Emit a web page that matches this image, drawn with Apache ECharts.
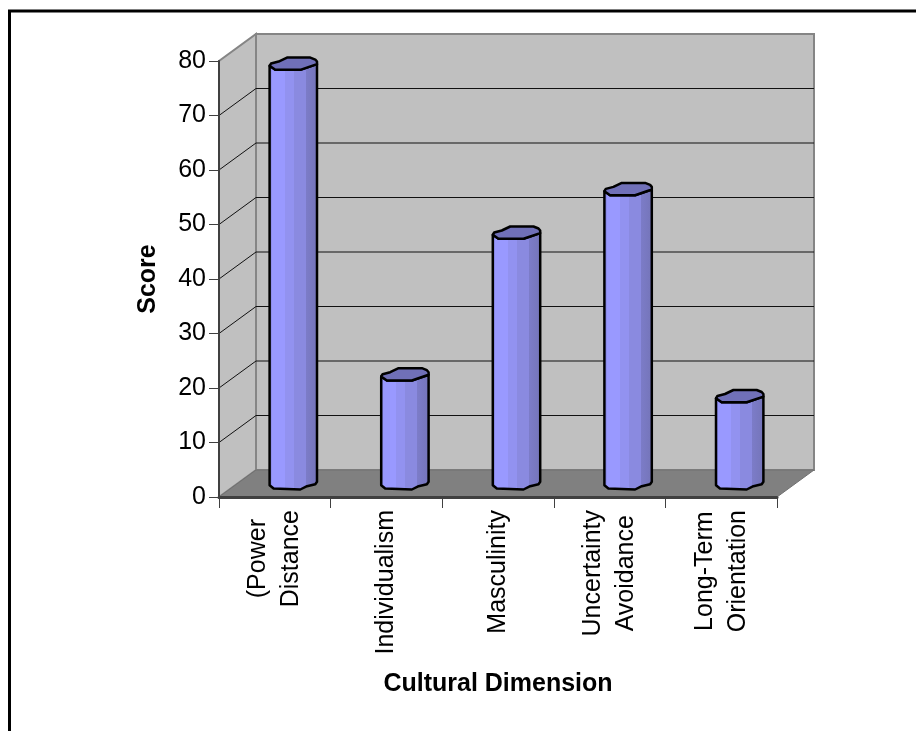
<!DOCTYPE html>
<html>
<head>
<meta charset="utf-8">
<style>html,body{margin:0;padding:0;background:#fff}#chart{width:916px;height:731px}</style>
<script src="https://cdn.jsdelivr.net/npm/echarts@6/dist/echarts.min.js"></script>
</head>
<body>
<div id="chart"></div>
<script>
// Hofstede-style cultural dimension scores
const categories = ['(Power\nDistance', 'Individualism', 'Masculinity', 'Uncertainty\nAvoidance', 'Long-Term\nOrientation'];
const scores = [77, 20, 46, 54, 16];
const scoreTicks = [0, 10, 20, 30, 40, 50, 60, 70, 80];

const FONT = '"Liberation Sans", Arial, sans-serif';
const DEPTH_X = 37, DEPTH_Y = -27;         // oblique offset of the back wall
const WALL_EDGE = '#858585';

// Faceted outline of a column's cap and foot, relative to its axis, in px
const capBack = [[-23.7, 2], [-22.3, -0.3], [-14.7, -2.3], [-6.3, -6.3], [17, -6.3], [22, -4.3], [23.7, -2.3], [23.7, 0.3]];
const capFront = [[7, 6], [-18, 6]];
const footFront = [[-23.7, 1.7], [-19.7, 5], [7, 6], [13.7, 2.7], [22, 0.7], [23.7, -1.7]];

const columnFill = {
  type: 'linear', x: 0, y: 0, x2: 1, y2: 0,
  colorStops: [
    [0, '#8e8eee'], [0.07, '#8e8eee'], [0.07, '#9999ff'], [0.33, '#9999ff'],
    [0.33, '#9292f0'], [0.51, '#9292f0'], [0.51, '#8a8ae0'], [0.75, '#8a8ae0'],
    [0.75, '#7c7cc8'], [1, '#7474b8']
  ].map(([offset, color]) => ({ offset, color }))
};

function shift(points, x, y) {
  return points.map(p => [p[0] + x, p[1] + y]);
}

// Side wall, back wall, floor and gridlines of the oblique plot box
function renderBox(params, api) {
  const band = api.size([1, 0])[0];
  const bottom = api.coord([0, 0]);
  const top = api.coord([0, scoreTicks[scoreTicks.length - 1]]);
  const x0 = bottom[0] - band / 2;
  const x1 = x0 + band * categories.length;
  const y0 = bottom[1], y1 = top[1];
  const bx0 = x0 + DEPTH_X, bx1 = x1 + DEPTH_X;
  const wall = { fill: '#c0c0c0', stroke: WALL_EDGE, lineWidth: 2 };
  const children = [
    { type: 'polygon', shape: { points: [[bx0, y0 + DEPTH_Y], [bx0, y1 + DEPTH_Y], [bx1, y1 + DEPTH_Y], [bx1, y0 + DEPTH_Y]] }, style: wall },
    { type: 'polygon', shape: { points: [[x0, y0], [x0, y1], [bx0, y1 + DEPTH_Y], [bx0, y0 + DEPTH_Y]] }, style: wall }
  ];
  scoreTicks.slice(1, -1).forEach(v => {
    const y = api.coord([0, v])[1];
    children.push({
      type: 'polyline',
      shape: { points: [[x0, y], [bx0, y + DEPTH_Y], [bx1, y + DEPTH_Y]] },
      style: { fill: null, stroke: '#111', lineWidth: 1 }
    });
  });
  children.push({
    type: 'polygon',
    shape: { points: [[x0, y0], [bx0, y0 + DEPTH_Y], [bx1, y0 + DEPTH_Y], [x1, y0]] },
    style: { fill: '#808080', stroke: '#707070', lineWidth: 1 }
  });
  return { type: 'group', children };
}

// One faceted column standing halfway into the box depth
function renderColumn(params, api) {
  const idx = api.value(0);
  const head = api.coord([idx, api.value(1)]);
  const foot = api.coord([idx, 0]);
  const cx = head[0] + DEPTH_X / 2;
  const topY = head[1] + DEPTH_Y / 2;
  const footY = foot[1] + DEPTH_Y / 2;
  const edge = { stroke: '#000', lineWidth: 2.5, lineJoin: 'round' };
  const body = [
    ...shift(capBack.slice(-1), cx, topY),
    ...shift(footFront.slice().reverse(), cx, footY),
    ...shift(capBack.slice(0, 1), cx, topY),
    ...shift(capFront.slice().reverse(), cx, topY)
  ];
  return {
    type: 'group',
    children: [
      { type: 'polygon', shape: { points: body }, style: Object.assign({ fill: columnFill }, edge) },
      { type: 'polygon', shape: { points: shift(capBack.concat(capFront), cx, topY) }, style: Object.assign({ fill: '#7070b8' }, edge) }
    ]
  };
}

const chart = echarts.init(document.getElementById('chart'), null, { renderer: 'canvas' });
chart.setOption({
  animation: false,
  backgroundColor: '#fff',
  textStyle: { fontFamily: FONT },
  grid: { left: 219, right: 139, top: 61, bottom: 234, containLabel: false },
  xAxis: {
    type: 'category',
    data: categories,
    name: 'Cultural Dimension',
    nameLocation: 'middle',
    nameGap: 175,
    nameTextStyle: { fontFamily: FONT, fontSize: 25, fontWeight: 'bold', color: '#000' },
    axisLine: { lineStyle: { color: '#404040', width: 3 } },
    axisTick: { show: true, length: 11, lineStyle: { color: '#404040', width: 1 } },
    axisLabel: {
      rotate: 90,
      margin: 13,
      interval: 0,
      formatter: value => value.split('\n').map(line => `{c|${line}}`).join('\n'),
      rich: { c: { align: 'center', fontFamily: FONT, fontSize: 25, lineHeight: 33, color: '#000' } }
    },
    splitLine: { show: false }
  },
  yAxis: {
    type: 'value',
    min: scoreTicks[0],
    max: scoreTicks[scoreTicks.length - 1],
    interval: 10,
    name: 'Score',
    nameLocation: 'middle',
    nameGap: 58,
    nameTextStyle: { fontFamily: FONT, fontSize: 25, fontWeight: 'bold', color: '#000' },
    axisLine: { show: true, lineStyle: { color: '#404040', width: 2 } },
    axisTick: { show: true, length: 10, lineStyle: { color: '#404040', width: 1 } },
    axisLabel: { margin: 13, fontFamily: FONT, fontSize: 25, color: '#000' },
    splitLine: { show: false }
  },
  graphic: [{
    type: 'polyline',
    silent: true,
    shape: { points: [[9.5, 731], [9.5, 11], [916, 11]] },
    style: { fill: null, stroke: '#000', lineWidth: 3 }
  }],
  series: [
    { type: 'custom', z: -1, silent: true, renderItem: renderBox, data: [0], encode: { x: 0 } },
    {
      type: 'custom', z: 5, silent: true, renderItem: renderColumn,
      data: scores.map((s, i) => [i, s]), encode: { x: 0, y: 1 }
    }
  ]
});
</script>
</body>
</html>
